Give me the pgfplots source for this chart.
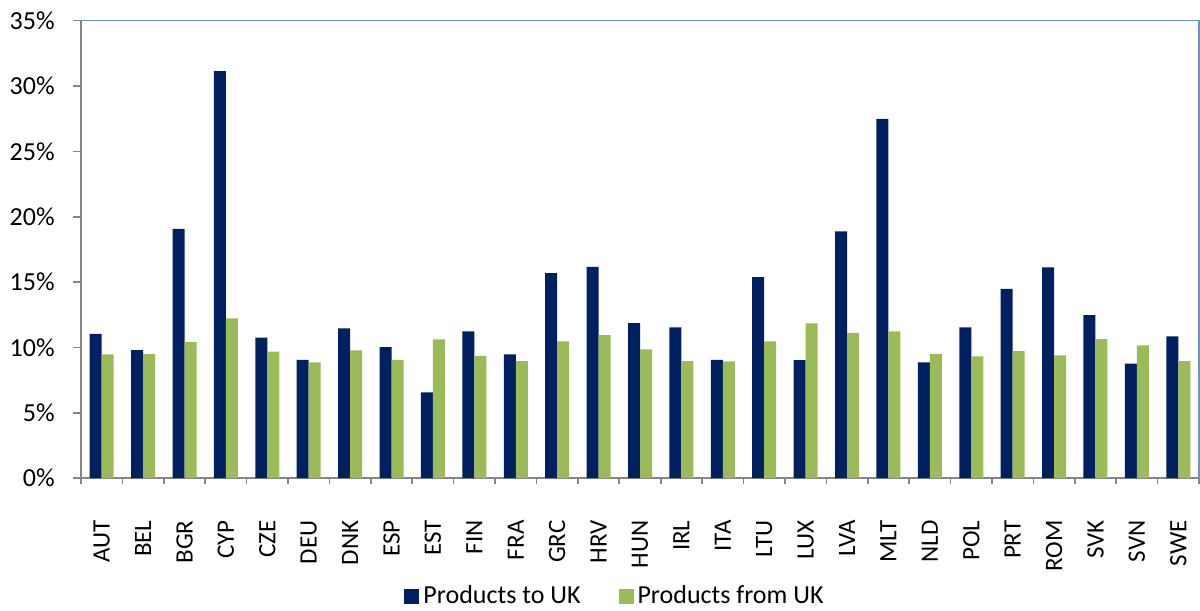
\documentclass[border=0pt]{standalone}
\usepackage{fontspec}
\setmainfont{Carlito}
\usepackage{pgfplots}
\usepackage{pgfplotstable}
\pgfplotsset{compat=1.18}

\definecolor{navy}{HTML}{002060}
\definecolor{lgreen}{HTML}{9BBB59}
\definecolor{axgray}{HTML}{868686}
\definecolor{frameblue}{HTML}{6A93CC}

% share of trade: products to / from the UK (%)
\pgfplotstableread{
idx name to from
0  AUT 11.04 9.46
1  BEL 9.79  9.49
2  BGR 19.07 10.41
3  CYP 31.14 12.22
4  CZE 10.74 9.67
5  DEU 9.05  8.85
6  DNK 11.45 9.77
7  ESP 10.02 9.05
8  EST 6.56  10.61
9  FIN 11.22 9.36
10 FRA 9.46  8.95
11 GRC 15.68 10.46
12 HRV 16.17 10.94
13 HUN 11.86 9.85
14 IRL 11.53 8.95
15 ITA 9.05  8.93
16 LTU 15.38 10.46
17 LUX 9.03  11.84
18 LVA 18.87 11.12
19 MLT 27.49 11.22
20 NLD 8.85  9.49
21 POL 11.53 9.31
22 PRT 14.48 9.72
23 ROM 16.12 9.39
24 SVK 12.47 10.64
25 SVN 8.75  10.15
26 SWE 10.84 8.95
}\tradedata

\begin{document}
\begin{tikzpicture}
\fontsize{13}{15}\selectfont
\begin{axis}[
    scale only axis,
    width=559pt, height=228.7pt,
    clip=false,
    ybar=0pt, bar width=6pt,
    xmin=-0.5, xmax=26.5,
    ymin=0, ymax=35,
    ytick={0,5,...,35},
    yticklabel={\pgfmathprintnumber{\tick}\%},
    /pgf/number format/assume math mode=true,
    xtick={0,...,26},
    xticklabels from table={\tradedata}{name},
    minor xtick={-0.5,0.5,...,26.5},
    major x tick style={draw=none},
    tick align=outside,
    major tick length=4pt, minor tick length=3pt,
    tick style={axgray, line width=0.8pt},
    axis x line*=bottom, axis y line*=left,
    axis line style={axgray, line width=1pt},
    xticklabel style={rotate=90, anchor=east, inner sep=0pt, font=\fontsize{12.5}{15}\selectfont},
    xticklabel shift=17pt,
    yticklabel style={anchor=east, inner sep=0pt, font=\fontsize{13}{15}\selectfont},
    yticklabel shift=9pt,
    legend columns=2,
    legend style={at={(0.5,0)}, anchor=center, yshift=-59.25pt, xshift=-12pt,
        draw=none, font=\fontsize{13}{15}\selectfont,
        /tikz/every even column/.append style={column sep=17pt}},
    legend image code/.code={\fill[#1] (0pt,-3.75pt) rectangle (7.5pt,3.75pt);},
]
\addplot[fill=navy, draw=none] table[x=idx, y=to] {\tradedata};
\addplot[fill=lgreen, draw=none] table[x=idx, y=from] {\tradedata};
\legend{Products to UK, Products from UK}
\draw[frameblue, line width=0.8pt] (rel axis cs:0,1) -- (rel axis cs:1,1) -- (rel axis cs:1,0);
\end{axis}
\pgfresetboundingbox
\path[use as bounding box] ([xshift=-40.5pt,yshift=-66pt]current axis.south west)
    rectangle ([xshift=0.5pt,yshift=10.35pt]current axis.north east);
\end{tikzpicture}
\end{document}
